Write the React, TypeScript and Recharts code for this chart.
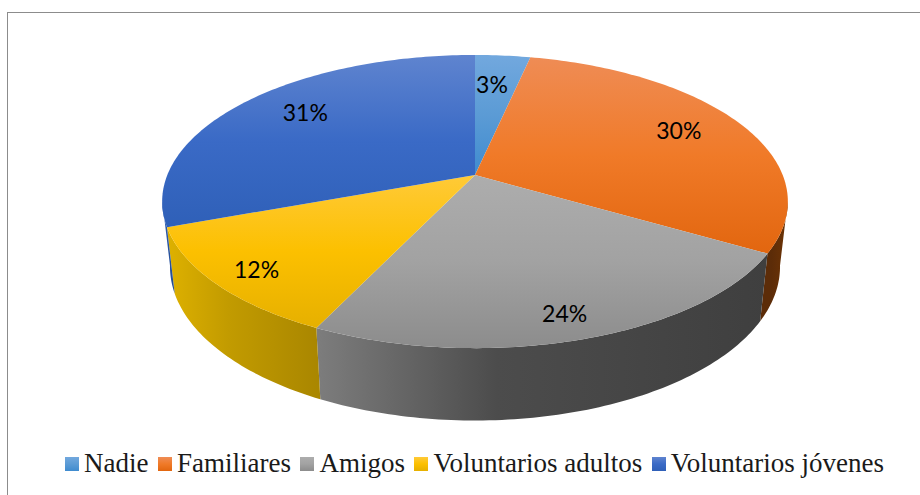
import { PieChart, Pie, Legend } from "recharts";

const categories = ["Nadie", "Familiares", "Amigos", "Voluntarios adultos", "Voluntarios jóvenes"];
const shares = [3.4, 30, 23.7, 12.3, 30.6];

const topColors = [
  ["#72a8de", "#5b9bd5", "#3f8bcf"],
  ["#ef8c55", "#f07a28", "#e2660f"],
  ["#adadad", "#a2a2a2", "#8c8c8c"],
  ["#ffca38", "#fcc000", "#e6b000"],
  ["#5f84cf", "#3a6ac6", "#2f60b8"],
];
const wallColors = [
  ["#3a6fa0", "#33638f", "#2c5a85"],
  ["#5c2c08", "#5c2c08", "#6e3405"],
  ["#7d7d7d", "#4c4c4c", "#3f3f3f"],
  ["#deb100", "#c29b00", "#a98600"],
  ["#2f5fb6", "#2a56a4", "#234a90"],
];
// small shifts of the percent labels, in the same order as the categories
const labelNudgeX = [-5, 1, -3, 3, 8];
const labelNudgeY = [3, -4, -1, 1, -6];

const data = categories.map((name, i) => ({ name, value: shares[i], idx: i }));

// tilt of the disc, the apex sits above the centre of the outline
const TILT = 0.181;
const X_SCALE = 0.983;
const Y_SCALE = 0.468;
const APEX_LIFT = 0.083;
const BASE_X = 0.975;
const BASE_Y = 1.05;
const BASE_DROP = 65;

const project = (deg: number, frac: number, R: number) => {
  const t = (deg * Math.PI) / 180;
  const X = Math.sin(t) * frac;
  const Y = -Math.cos(t) * frac;
  const w = 1 - TILT * Y;
  return [(R * X_SCALE * X) / w, (R * Y_SCALE * Y - R * APEX_LIFT) / w];
};

const arcPoints = (from: number, to: number, R: number) => {
  const pts: number[][] = [];
  const n = Math.max(2, Math.ceil(Math.abs(to - from)));
  for (let i = 0; i <= n; i++) pts.push(project(from + ((to - from) * i) / n, 1, R));
  return pts;
};

const toPath = (pts: number[][]) =>
  pts.map((p, i) => `${i ? "L" : "M"}${p[0].toFixed(2)},${p[1].toFixed(2)}`).join(" ");

const TopSlice = (props: any) => {
  const { cx, cy, outerRadius: R, startAngle, endAngle, idx } = props;
  const from = 90 - startAngle;
  const to = 90 - endAngle;
  const apex = project(0, 0, R);
  const d = toPath([apex, ...arcPoints(from, to, R)]) + " Z";
  return <path d={d} transform={`translate(${cx},${cy})`} fill={`url(#top${idx})`} />;
};

const WallSlice = (props: any) => {
  const { cx, cy, outerRadius: R, startAngle, endAngle, idx } = props;
  // the wall only shows between the two widest points of the outline
  const from = Math.max(90 - startAngle, 100);
  const to = Math.min(90 - endAngle, 260);
  if (to <= from) return null;
  const upper = arcPoints(from, to, R);
  const lower = upper.map((p) => [p[0] * BASE_X, p[1] * BASE_Y + BASE_DROP]).reverse();
  return (
    <path
      d={toPath([...upper, ...lower]) + " Z"}
      transform={`translate(${cx},${cy})`}
      fill={`url(#wall${idx})`}
    />
  );
};

const renderLabel = (props: any) => {
  const { cx, cy, outerRadius: R, midAngle, percent, index } = props;
  const deg = 90 - midAngle;
  const front = Math.cos((deg * Math.PI) / 180) < 0;
  const p = project(deg, front ? 0.87 : 0.76, R);
  return (
    <text
      x={cx + p[0] + labelNudgeX[index]}
      y={cy + p[1] + labelNudgeY[index]}
      textAnchor="middle"
      dominantBaseline="central"
      fontFamily="Lato"
      fontSize={23}
      fill="#000"
    >
      {Math.round(percent * 100)}%
    </text>
  );
};

const LegendBody = () => (
  <div style={{ display: "flex", alignItems: "center", fontFamily: "'Liberation Serif'", fontSize: 27, color: "#1a1a1a", whiteSpace: "nowrap" }}>
    {categories.map((name, i) => (
      <span key={name} style={{ display: "inline-flex", alignItems: "center", marginRight: 9.5 }}>
        <span
          style={{
            width: 14,
            height: 14,
            marginRight: 5,
            background: `linear-gradient(${topColors[i][0]}, ${topColors[i][1]}, ${topColors[i][2]})`,
          }}
        />
        {name}
      </span>
    ))}
  </div>
);

export default function App() {
  return (
    <div style={{ position: "absolute", left: 0, top: 0, width: 920, height: 495, overflow: "hidden", background: "#fff" }}>
      <div style={{ position: "absolute", left: 7, top: 12, width: 930, height: 500, border: "1px solid #8c8c8c" }} />
      <PieChart width={920} height={495} margin={{ top: 0, right: 0, bottom: 0, left: 0 }}>
        <defs>
          {topColors.map((c, i) => (
            <linearGradient key={i} id={`top${i}`} x1="0" y1="0" x2="0" y2="1">
              <stop offset="0" stopColor={c[0]} />
              <stop offset="0.5" stopColor={c[1]} />
              <stop offset="1" stopColor={c[2]} />
            </linearGradient>
          ))}
          {wallColors.map((c, i) => (
            <linearGradient key={i} id={`wall${i}`} x1="0" y1="0" x2="1" y2="0">
              <stop offset="0" stopColor={c[0]} />
              <stop offset="0.4" stopColor={c[1]} />
              <stop offset="1" stopColor={c[2]} />
            </linearGradient>
          ))}
        </defs>
        <Pie
          data={data}
          dataKey="value"
          nameKey="name"
          cx={475}
          cy={201}
          outerRadius={313}
          startAngle={90}
          endAngle={-270}
          stroke="none"
          legendType="none"
          shape={WallSlice}
          isAnimationActive={false}
        />
        <Pie
          data={data}
          dataKey="value"
          nameKey="name"
          cx={475}
          cy={201}
          outerRadius={313}
          startAngle={90}
          endAngle={-270}
          stroke="none"
          shape={TopSlice}
          label={renderLabel}
          labelLine={false}
          isAnimationActive={false}
        />
        <Legend
          content={LegendBody}
          wrapperStyle={{ position: "absolute", left: 65, top: 448, width: 850, height: 30 }}
        />
      </PieChart>
    </div>
  );
}
